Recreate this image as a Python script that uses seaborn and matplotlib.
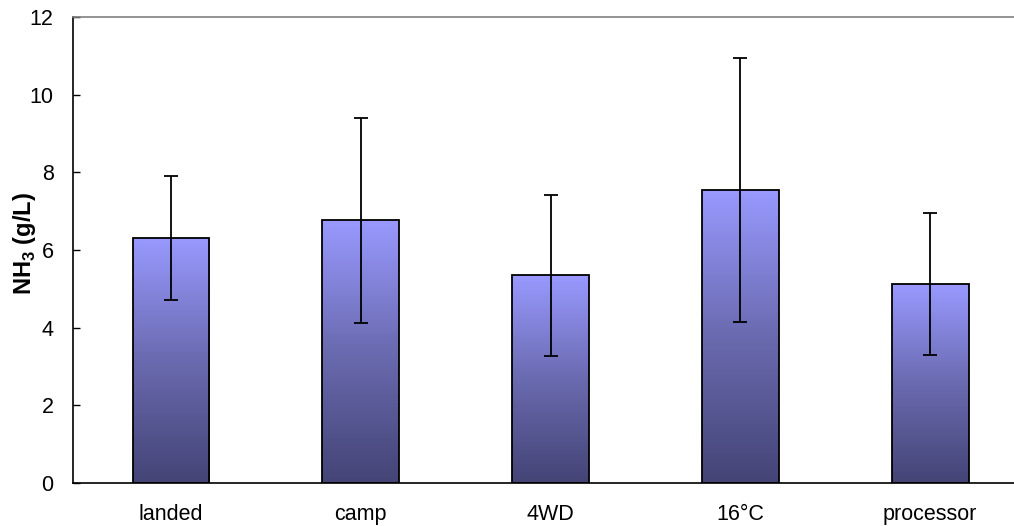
import numpy as np
import pandas as pd
import matplotlib
matplotlib.use("Agg")
import matplotlib.pyplot as plt
import seaborn as sns
from matplotlib.colors import LinearSegmentedColormap

# data
sites = ["landed", "camp", "4WD", "16°C", "processor"]
nh3_mean = [6.31, 6.76, 5.35, 7.55, 5.12]
nh3_err = [1.60, 2.65, 2.07, 3.40, 1.83]

df = pd.DataFrame({"site": sites, "nh3": nh3_mean})

sns.set_style("white")
plt.rcParams["font.family"] = ["Liberation Sans", "DejaVu Sans"]
plt.rcParams["mathtext.fontset"] = "custom"
plt.rcParams["mathtext.rm"] = "Liberation Sans:bold"
for k in ["text.color", "axes.labelcolor", "xtick.color", "ytick.color"]:
    plt.rcParams[k] = "black"

fig = plt.figure(figsize=(10.14, 5.26), dpi=100)
ax = fig.add_axes([0.072, 0.0817, 0.928, 0.886])

sns.barplot(data=df, x="site", y="nh3", ax=ax, width=0.405,
            color="#9999FF", edgecolor="black", linewidth=1.3,
            errorbar=None, zorder=2)

# gradient fill inside each bar: light violet at top, dark slate at bottom
cmap = LinearSegmentedColormap.from_list("bar", ["#444476", "#6a6aB0", "#9999FF"])
grad = np.linspace(0, 1, 256).reshape(-1, 1)
xs = []
for p in ax.patches:
    x0, w, h = p.get_x(), p.get_width(), p.get_height()
    xs.append(x0 + w / 2)
    im = ax.imshow(grad, cmap=cmap, origin="lower", aspect="auto",
                   extent=[x0, x0 + w, 0, h], zorder=2.5)
    im.set_clip_path(p)
    p.set_facecolor("none")
    p.set_zorder(3)

ax.errorbar(xs, nh3_mean, yerr=nh3_err, fmt="none", ecolor="black",
            elinewidth=1.3, capsize=4.8, capthick=1.3, zorder=4)

ax.set_xlim(-0.516, 4.442)
ax.set_ylim(0, 12)
ax.set_yticks(range(0, 13, 2))
ax.set_xlabel("")
ax.set_ylabel(r"NH$_\mathrm{3}$ (g/L)", fontsize=17, fontweight="bold")
ax.yaxis.set_label_coords(-0.037, 0.513)

ax.tick_params(axis="y", direction="in", length=5, width=1, labelsize=15.5, pad=14, left=True)
ax.tick_params(axis="x", length=0, labelsize=15.5, pad=15)

for s in ["left", "bottom"]:
    ax.spines[s].set_color("black")
    ax.spines[s].set_linewidth(1.2)
ax.spines["top"].set_color("#808080")
ax.spines["top"].set_linewidth(1.2)
ax.spines["right"].set_visible(False)

fig.savefig("out.png", dpi=100)
